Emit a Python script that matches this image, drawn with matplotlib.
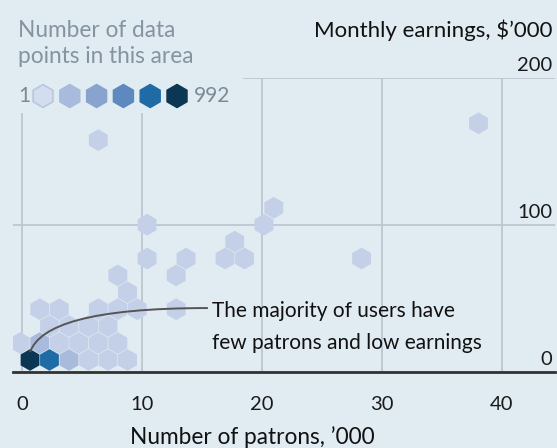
import matplotlib
matplotlib.use("Agg")
import matplotlib.pyplot as plt
from matplotlib.patches import Rectangle, PathPatch
from matplotlib.path import Path

# hexagon centres (patrons '000, earnings $'000) and colour level 1-6
hex_x = [0.67, 2.29, 3.92, 5.55, 7.17, 8.80,
         -0.15, 1.48, 3.11, 4.73, 6.36, 7.99,
         2.29, 3.92, 5.55, 7.17,
         1.48, 3.11, 6.36, 7.99, 9.61, 12.86,
         8.80,
         7.99, 12.86,
         10.43, 13.68, 16.93, 18.56, 28.32,
         17.74,
         10.43, 20.18,
         21.00,
         6.36,
         38.07]
hex_y = [8.2, 8.2, 8.2, 8.2, 8.2, 8.2,
         19.7, 19.7, 19.7, 19.7, 19.7, 19.7,
         31.2, 31.2, 31.2, 31.2,
         42.7, 42.7, 42.7, 42.7, 42.7, 42.7,
         54.2,
         65.7, 65.7,
         77.2, 77.2, 77.2, 77.2, 77.2,
         88.7,
         100.2, 100.2,
         111.7,
         157.7,
         169.2]
hex_level = [6, 5, 2, 1, 1, 1,
             1, 2, 1, 1, 1, 1,
             1, 1, 1, 1,
             1, 1, 1, 1, 1, 1,
             1,
             1, 1,
             1, 1, 1, 1, 1,
             1,
             1, 1,
             1,
             1,
             1]

level_colors = ["#c3d0e8", "#a8bbdc", "#89a3cf", "#5e89bf", "#1f6ba6", "#0b3754"]
x_ticks = [0, 10, 20, 30, 40]
y_ticks = [0, 100, 200]
note_lines = ["The majority of users have", "few patrons and low earnings"]
# leader line from the densest hexagon to the note (cubic bezier)
leader = [(0.67, 13.6), (1.5, 32.0), (5.7, 43.5), (15.5, 43.5)]

bg = "#e1ebf2"
grid_c = "#bcc7d0"
font = "Lato"

W, H = 557, 448
fig = plt.figure(figsize=(W / 100, H / 100), dpi=100, facecolor=bg)
ax = fig.add_axes([13.5 / W, 1 - 372 / H, (555 - 13.5) / W, (372 - 78) / H])
ax.set_facecolor(bg)
ax.set_xlim(-0.71, 44.45)
ax.set_ylim(0, 200)
for s in ax.spines.values():
    s.set_visible(False)

ax.set_axisbelow(True)
ax.set_xticks(x_ticks)
ax.set_yticks(y_ticks)
ax.grid(True, color=grid_c, lw=1.3)
ax.tick_params(length=0, labelleft=False)
ax.tick_params(axis="x", pad=17, labelsize=14.5, labelcolor="#1a1a1a")
for lab in ax.get_xticklabels():
    lab.set_fontfamily(font)
ax.axhline(0, color="#333333", lw=2, zorder=3, clip_on=False)

# y labels sit above the gridlines, on the right
for v in y_ticks:
    ax.annotate(str(v), xy=(1, v), xycoords=("axes fraction", "data"),
                xytext=(-2, 3), textcoords="offset points", ha="right", va="bottom",
                fontsize=14.5, family=font, color="#1a1a1a")

cols = [level_colors[l - 1] for l in hex_level]
ax.scatter(hex_x, hex_y, s=245, marker="h", c=cols, linewidths=0, zorder=2)

# cover the grid behind the key
ax.add_patch(Rectangle((0, 1 - 113 / H), 243 / W, 113 / H, transform=fig.transFigure,
                       facecolor=bg, edgecolor="none", zorder=1, clip_on=False))

# key
key_grey = "#8494a0"
fig.text(18 / W, 1 - 37 / H, "Number of data", fontsize=16.3, family=font,
         color=key_grey, va="baseline")
fig.text(18 / W, 1 - 63 / H, "points in this area", fontsize=16.3, family=font,
         color=key_grey, va="baseline")
fig.text(18 / W, 1 - 96 / H, "1", fontsize=15, family=font, color="#7a8a96", va="center")
fig.text(194 / W, 1 - 96 / H, "992", fontsize=15, family=font, color="#7a8a96", va="center")
key_x = [(43 + 26.8 * i) / W for i in range(6)]
key_y = [1 - 96 / H] * 6
key_face = ["#d3ddee"] + level_colors[1:]
key_edge = ["#b8c7e1"] + level_colors[1:]
ax.scatter(key_x, key_y, s=270, marker="h", c=key_face, edgecolors=key_edge, linewidths=1.2,
           transform=fig.transFigure, clip_on=False, zorder=4)

# titles
fig.text(553 / W, 1 - 37 / H, "Monthly earnings, $\u2019000", fontsize=16, family=font,
         color="#111111", ha="right", va="baseline")
fig.text(252 / W, 1 - 444 / H, "Number of patrons, \u2019000", fontsize=16.3, family=font,
         color="#111111", ha="center", va="baseline")

# annotation
path = Path(leader, [Path.MOVETO, Path.CURVE4, Path.CURVE4, Path.CURVE4])
ax.add_patch(PathPatch(path, facecolor="none", edgecolor="#555555", lw=1.4, zorder=3))
ax.text(15.85, 37.5, note_lines[0], fontsize=15, family=font, color="#111111", va="baseline")
ax.text(15.85, 15.8, note_lines[1], fontsize=15, family=font, color="#111111", va="baseline")

fig.savefig("out.png", dpi=100, facecolor=bg)
